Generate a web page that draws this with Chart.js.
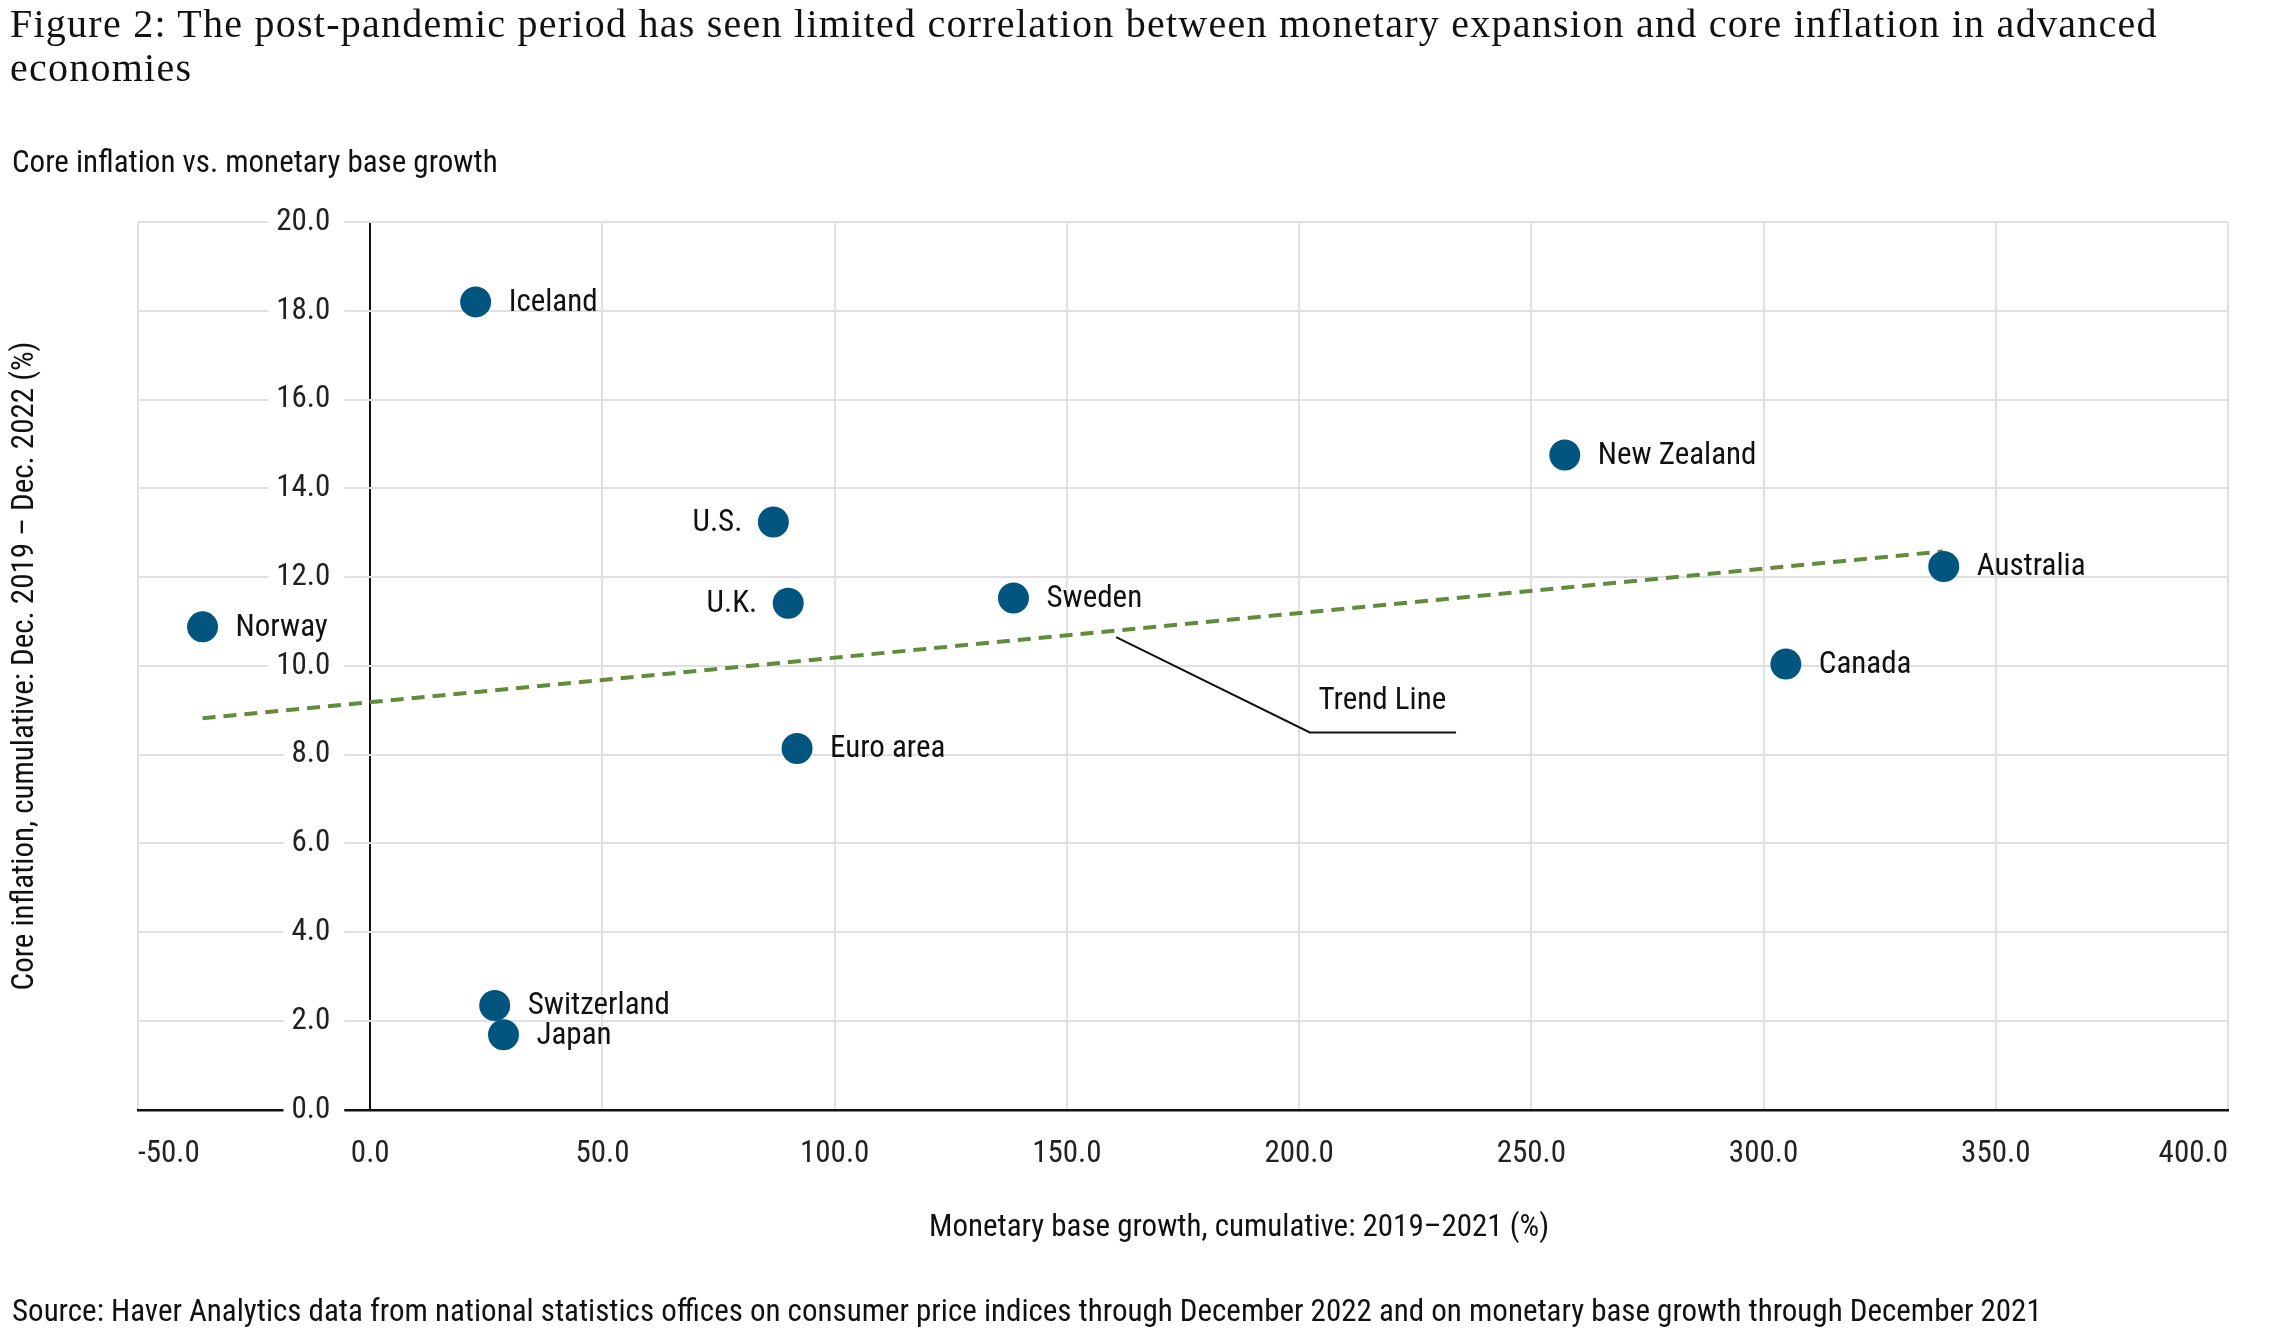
<!DOCTYPE html>
<html>
<head>
<meta charset="utf-8">
<title>Core inflation vs. monetary base growth</title>
<script src="https://cdn.jsdelivr.net/npm/chart.js@4.4.1/dist/chart.umd.min.js"></script>
<style>
  html, body { margin: 0; padding: 0; background: #fff; }
  body {
    width: 2292px; height: 1333px; position: relative; overflow: hidden;
    font-family: 'Roboto Condensed', 'Liberation Sans Narrow', 'Arial Narrow', 'DejaVu Sans Condensed', Roboto, sans-serif;
    color: #111;
  }
  #chart-box { position: absolute; left: 0; top: 0; width: 2292px; height: 1333px; }
  .txt { position: absolute; white-space: nowrap; }
  #title {
    left: 10px; top: 2px;
    font-family: 'Liberation Serif', 'DejaVu Serif', serif;
    font-size: 40px; line-height: 44px; letter-spacing: 1.25px;
  }
  #subtitle { left: 12px; top: 143px; font-size: 31px; line-height: 38px; }
  #x-title { left: 0; width: 2478px; top: 1207px; font-size: 31px; line-height: 38px; text-align: center; }
  #y-title {
    left: -377px; width: 800px; top: 647px; font-size: 31px; line-height: 38px;
    text-align: center; transform: rotate(-90deg);
  }
  #source { left: 12px; top: 1292px; font-size: 31px; line-height: 38px; }
</style>
</head>
<body>
<div id="chart-box"><canvas id="scatter-chart"></canvas></div>
<div class="txt" id="title">Figure 2: The post-pandemic period has seen limited correlation between monetary expansion and core inflation in advanced<br>economies</div>
<div class="txt" id="subtitle">Core inflation vs. monetary base growth</div>
<div class="txt" id="y-title">Core inflation, cumulative: Dec. 2019 – Dec. 2022 (%)</div>
<div class="txt" id="x-title">Monetary base growth, cumulative: 2019–2021 (%)</div>
<div class="txt" id="source">Source: Haver Analytics data from national statistics offices on consumer price indices through December 2022 and on monetary base growth through December 2021</div>

<script>
// values
const countries = ["Iceland", "New Zealand", "U.S.", "Australia", "Sweden", "U.K.", "Norway", "Canada", "Euro area", "Switzerland", "Japan"];
const baseGrowth = [22.7, 257.2, 86.8, 338.8, 138.5, 90.0, -36.1, 304.8, 91.9, 26.8, 28.7];
const coreInflation = [18.2, 14.75, 13.24, 12.24, 11.53, 11.41, 10.88, 10.04, 8.14, 2.35, 1.69];
const labelSide = ["right", "right", "left", "right", "right", "left", "right", "right", "right", "right", "right"];

const trendX = [-36.1, 338.6];
const trendY = [8.82, 12.58];

const calloutX = [160.6, 202.3, 233.8];
const calloutY = [10.65, 8.5, 8.5];
const calloutLabel = "Trend Line";
const calloutLabelX = 204.2;
const calloutLabelY = 9.21;

const xMin = -50, xMax = 400, xStep = 50;
const yMin = 0, yMax = 20, yStep = 2;
// y tick labels sit just left of the zero line, as in the original
const yLabelAnchor = -8.6;

const sansFamily = "'Roboto Condensed', 'Liberation Sans Narrow', 'Arial Narrow', 'DejaVu Sans Condensed', Roboto, sans-serif";
const labelSize = 31;

const pointColor = "#02557f";
const trendColor = "#628b3c";
const gridColor = "#dfdfe4";
const axisColor = "#111";

function toPoints(xs, ys) {
  return xs.map((x, i) => ({ x: x, y: ys[i] }));
}

const pointLabels = {
  id: "pointLabels",
  afterDatasetsDraw(chart) {
    const ctx = chart.ctx;
    const meta = chart.getDatasetMeta(0);
    const xs = chart.scales.x;
    const ys = chart.scales.y;
    ctx.save();
    ctx.font = `${labelSize}px ${sansFamily}`;
    ctx.fillStyle = "#111";
    ctx.textBaseline = "middle";
    meta.data.forEach((pt, i) => {
      const right = labelSide[i] === "right";
      ctx.textAlign = right ? "left" : "right";
      ctx.fillText(countries[i], pt.x + (right ? 33 : -31), pt.y + 1);
    });
    ctx.textAlign = "left";
    ctx.fillText(calloutLabel, xs.getPixelForValue(calloutLabelX), ys.getPixelForValue(calloutLabelY));
    ctx.restore();
  }
};

Chart.defaults.font.family = sansFamily;
Chart.defaults.font.size = labelSize;
Chart.defaults.color = "#222";

new Chart(document.getElementById("scatter-chart").getContext("2d"), {
  type: "scatter",
  data: {
    datasets: [
      {
        label: "Countries",
        data: toPoints(baseGrowth, coreInflation),
        backgroundColor: pointColor,
        borderWidth: 0,
        pointRadius: 15.5,
        pointHoverRadius: 15.5
      },
      {
        label: "Trend line",
        data: toPoints(trendX, trendY),
        showLine: true,
        borderColor: trendColor,
        borderWidth: 4,
        borderDash: [13, 8],
        pointRadius: 0,
        fill: false
      },
      {
        label: "Callout",
        data: toPoints(calloutX, calloutY),
        showLine: true,
        borderColor: "#111",
        borderWidth: 2,
        pointRadius: 0,
        fill: false
      }
    ]
  },
  options: {
    responsive: true,
    maintainAspectRatio: false,
    animation: false,
    layout: {
      padding: { left: 138, right: 64, top: 222, bottom: 134 }
    },
    plugins: {
      legend: { display: false },
      tooltip: { enabled: false }
    },
    scales: {
      x: {
        type: "linear",
        position: "bottom",
        min: xMin,
        max: xMax,
        ticks: {
          stepSize: xStep,
          padding: 26,
          align: "inner",
          color: "#222",
          callback: value => value.toFixed(1)
        },
        grid: {
          color: ctx => (ctx.tick && ctx.tick.value === 0 ? axisColor : gridColor),
          lineWidth: 2,
          drawTicks: false
        },
        border: { color: axisColor, width: 2.5 }
      },
      y: {
        type: "linear",
        position: { x: yLabelAnchor },
        min: yMin,
        max: yMax,
        ticks: {
          stepSize: yStep,
          padding: 0,
          color: "#222",
          z: 1,
          showLabelBackdrop: true,
          backdropColor: "#fff",
          backdropPadding: { left: 8, right: 14, top: 0, bottom: 0 },
          callback: value => value.toFixed(1)
        },
        grid: {
          color: gridColor,
          lineWidth: 2,
          drawTicks: false
        },
        border: { display: false }
      }
    }
  },
  plugins: [pointLabels]
});
</script>
</body>
</html>
